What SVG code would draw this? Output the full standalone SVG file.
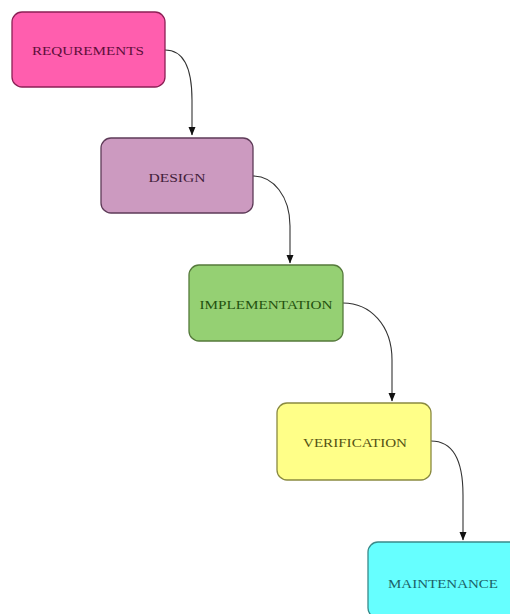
<svg xmlns="http://www.w3.org/2000/svg" width="510" height="614" viewBox="0 0 510 614">
<defs>
<marker id="arr" markerWidth="10" markerHeight="10" refX="8" refY="5" orient="auto" markerUnits="userSpaceOnUse">
<path d="M0,1.5 L8.5,5 L0,8.5 Z" fill="#111"/>
</marker>
<style>
.box{stroke-width:1.3}
.lbl{font-family:"Liberation Serif","Times New Roman",serif;font-size:13.5px;text-anchor:middle;dominant-baseline:central}
.edge{fill:none;stroke:#333;stroke-width:1.1}
</style>
</defs>
<rect width="510" height="614" fill="#fff"/>
<g id="connectors">
<path class="edge" d="M165,50 C185,50 192,70 192,100 L192,135" marker-end="url(#arr)"/>
<path class="edge" d="M253,176 C273,176 290,196 290,226 L290,263" marker-end="url(#arr)"/>
<path class="edge" d="M343,303 C370,303 392,325 392,360 L392,401" marker-end="url(#arr)"/>
<path class="edge" d="M431,441 C455,441 463,465 463,495 L463,540" marker-end="url(#arr)"/>
</g>
<g id="requirements">
<rect class="box" x="12" y="12" width="153" height="75" rx="10" fill="#ff5eae" stroke="#8c1f55"/>
<text class="lbl" x="88" y="50" fill="#5e0e3a" textLength="112" lengthAdjust="spacingAndGlyphs">REQUREMENTS</text>
</g>
<g id="design">
<rect class="box" x="101" y="138" width="152" height="75" rx="10" fill="#cc9ac0" stroke="#5e3b58"/>
<text class="lbl" x="177" y="177" fill="#42203a" textLength="57" lengthAdjust="spacingAndGlyphs">DESIGN</text>
</g>
<g id="implementation">
<rect class="box" x="189" y="265" width="154" height="76" rx="10" fill="#95d073" stroke="#557a3b"/>
<text class="lbl" x="266" y="304" fill="#24520f" textLength="133" lengthAdjust="spacingAndGlyphs">IMPLEMENTATION</text>
</g>
<g id="verification">
<rect class="box" x="277" y="403" width="154" height="77" rx="10" fill="#ffff88" stroke="#8a8a40"/>
<text class="lbl" x="355" y="442" fill="#555214" textLength="104" lengthAdjust="spacingAndGlyphs">VERIFICATION</text>
</g>
<g id="maintenance">
<rect class="box" x="368" y="542" width="154" height="76" rx="10" fill="#66ffff" stroke="#3a8a8a"/>
<text class="lbl" x="443" y="583" fill="#1c6268" textLength="110" lengthAdjust="spacingAndGlyphs">MAINTENANCE</text>
</g>
</svg>
